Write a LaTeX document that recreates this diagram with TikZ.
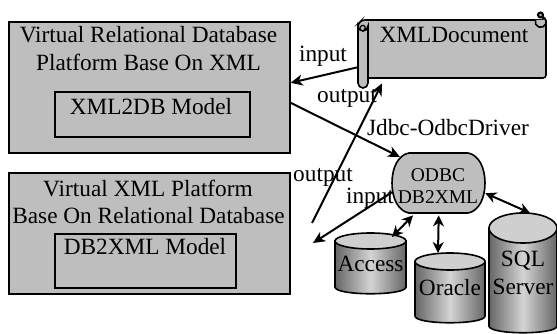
\documentclass[tikz,border=0pt]{standalone}
\usepackage{fontspec}
\setmainfont{Liberation Serif}
\usetikzlibrary{arrows.meta,calc}
\definecolor{panelgray}{HTML}{BEBEBE}
\definecolor{dbtop}{HTML}{CFCFCF}
\definecolor{dbdark}{HTML}{666666}
\definecolor{dbmid}{HTML}{D4D4D4}
\tikzset{
  x=1pt,y=-1pt,
  base/.style={font=\fontsize{23.3}{27}\selectfont,text=black},
  outerbox/.style={draw=black,line width=1.6pt,fill=panelgray,inner sep=0pt,anchor=north west},
  innerbox/.style={draw=black,line width=1.6pt,inner sep=0pt,anchor=north west},
  shapeline/.style={draw=black,line width=1.6pt},
  label/.style={base,inner sep=0pt,anchor=center},
  conn/.style={line width=2pt,-{Stealth[length=12pt,width=11pt,inset=3.5pt]}},
  biconn/.style={line width=2pt,{Stealth[length=11pt,width=11pt,inset=3.5pt]}-{Stealth[length=11pt,width=11pt,inset=3.5pt]}},
}
% x1 x2 top ellipse-bottom bottom name text
\newcommand{\dbcyl}[7]{%
  \path[shapeline,left color=dbdark,right color=dbdark,middle color=dbmid]
    (#1,{(#3+#4)/2}) -- (#1,#5-7) .. controls (#1,#5+2) and (#2,#5+2) .. (#2,#5-7) -- (#2,{(#3+#4)/2}) -- cycle;
  \draw[shapeline,fill=dbtop] ({(#1+#2)/2},{(#3+#4)/2}) ellipse [x radius={(#2-#1)/2},y radius={(#4-#3)/2}];
  \node[inner sep=0pt,minimum width=#2-#1,minimum height=#5-#3,anchor=north west] (#6) at (#1,#3) {};
  \node[base,align=center,inner sep=0pt] at ({(#1+#2)/2},{(#3+#5)/2}) {#7};
}
\begin{document}
\begin{tikzpicture}
\useasboundingbox (0,0) rectangle (557,334);
% left panels
\node[outerbox,minimum width=281,minimum height=131] (vrdb) at (8,21) {};
\node[label] at (148.5,35) {Virtual Relational Database};
\node[label] at (148.5,62) {Platform Base On XML};
\node[innerbox,minimum width=195,minimum height=45] (x2d) at (54,91) {};
\node[label] at (151,107) {XML2DB Model};
\node[outerbox,minimum width=281,minimum height=121] (vxml) at (8,172) {};
\node[label] at (148,188) {Virtual XML Platform};
\node[label] at (148.5,216) {Base On Relational Database};
\node[innerbox,minimum width=181,minimum height=54] (d2x) at (54,233) {};
\node[label] at (145,247) {DB2XML Model};
% scroll
\draw[shapeline,fill=panelgray,rounded corners=3pt]
  (362,20) -- (546,20) -- (546,78) -- (358,78) -- (358,24) -- cycle;
\draw[shapeline,fill=panelgray]
  (535.5,20) arc[start angle=200,end angle=-90,radius=5.5] -- (546,20);
\draw[line width=2pt,fill=black!35] (540.5,15) circle[radius=2.5];
\draw[shapeline,fill=panelgray]
  (358,26) arc[start angle=180,end angle=0,radius=5] -- (368,83) arc[start angle=0,end angle=180,radius=5] -- cycle;
\draw[line width=1.3pt] (364,30) arc[start angle=60,end angle=-200,radius=2.5];
\node[inner sep=0pt,minimum width=188,minimum height=68,anchor=north west] (xmldoc) at (358,20) {};
\node[label] at (454,35) {XMLDocument};
% ODBC
\path[shapeline,fill=panelgray]
  (409,153) -- (468,153) .. controls (479,155) and (485,168) .. (485,183)
  .. controls (485,198) and (479,211) .. (468,213) -- (409,213)
  .. controls (398,211) and (392,198) .. (392,183)
  .. controls (392,168) and (398,155) .. (409,153) -- cycle;
\node[inner sep=0pt,minimum width=93,minimum height=60,anchor=north west] (odbc) at (392,153) {};
\node[base,inner sep=0pt,font=\fontsize{19.5}{22}\selectfont] at (438,175) {ODBC};
\node[base,inner sep=0pt,font=\fontsize{19.5}{22}\selectfont] at (438,197) {DB2XML};
% databases
\dbcyl{335}{406}{233}{249}{294}{access}{Access}
\dbcyl{415}{485}{253}{270}{323}{oracle}{Oracle}
\dbcyl{489}{557}{213}{243}{333}{sql}{SQL\\[1pt]Server}
% free ends
\coordinate (outstart) at (312,223);
\coordinate (inend) at (313,243);
% connectors
\draw[conn] ([yshift=-13pt]xmldoc.west) -- ([yshift=4.5pt]vrdb.east);
\draw[conn] ([yshift=-15.5pt]vrdb.east) -- ([xshift=8pt,yshift=-4pt]odbc.north west);
\draw[conn] (outstart) -- ([xshift=24pt,yshift=5pt]xmldoc.south west);
\draw[conn] ([yshift=-9pt]odbc.west) -- (inend);
\draw[biconn] ([xshift=21pt,yshift=-2pt]odbc.south west) -- ([xshift=57pt,yshift=-4pt]access.north west);
\draw[biconn] ([yshift=-2pt]odbc.south) -- ([xshift=23pt]oracle.north west);
\draw[biconn] ([yshift=-10pt]odbc.east) -- ([xshift=41pt]sql.north west);
% labels
\node[label] at (323,56) {input};
\node[label] at (347,98) {output};
\node[label] at (448,128) {Jdbc-OdbcDriver};
\node[label] at (323,177) {output};
\node[label] at (370,198) {input};
\end{tikzpicture}
\end{document}
